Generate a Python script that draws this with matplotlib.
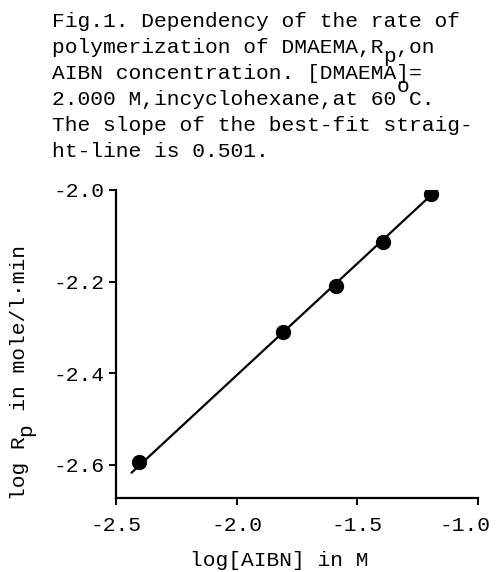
import matplotlib
matplotlib.use("Agg")
import matplotlib.pyplot as plt
from matplotlib.transforms import offset_copy, ScaledTranslation

plt.rcParams['font.family'] = ['Liberation Mono', 'DejaVu Sans Mono']

# Data
log_aibn = [-2.405, -1.808, -1.588, -1.393, -1.195]
log_rp = [-2.594, -2.310, -2.210, -2.114, -2.009]
fit_x = [-2.438, -1.157]
fit_y = [-2.618, -1.993]
xticks = [-2.5, -2.0, -1.5, -1.0]
xticklabels = ['-2.5', '-2.0', '-1.5', '-1.0']
yticks = [-2.6, -2.4, -2.2, -2.0]
yticklabels = ['-2.6', '-2.4', '-2.2', '-2.0']
caption = [
    "Fig.1. Dependency of the rate of",
    "polymerization of DMAEMA,R ,on",
    "AIBN concentration. [DMAEMA]=",
    "2.000 M,incyclohexane,at 60 C.",
    "The slope of the best-fit straig-",
    "ht-line is 0.501.",
]
xlabel = "log[AIBN] in M"
ylabel = "log R  in mole/l\u00b7min"

W, H = 497, 572
fig = plt.figure(figsize=(W / 100, H / 100), dpi=100)
ax = fig.add_axes([116 / W, (H - 498) / H, 362 / W, 308 / H])

ax.plot(fit_x, fit_y, color='black', lw=1.6, solid_capstyle='butt')
ax.plot(log_aibn, log_rp, 'o', color='black', ms=10)

ax.set_xlim(-2.5, -1.0)
ax.set_ylim(-2.672, -2.0)
ax.set_xticks(xticks)
ax.set_xticklabels(xticklabels)
ax.set_yticks(yticks)
ax.set_yticklabels(yticklabels)
for s in ['top', 'right']:
    ax.spines[s].set_visible(False)
for s in ['left', 'bottom']:
    ax.spines[s].set_linewidth(1.6)
fs = 15.3
ax.tick_params(axis='both', direction='out', length=5, width=1.4, labelsize=fs, pad=3)
ax.tick_params(axis='x', pad=8)

# shift last x tick label left (as in reference)
lbl = ax.get_xticklabels()[-1]
lbl.set_transform(lbl.get_transform() + ScaledTranslation(-0.13, 0, fig.dpi_scale_trans))

cw = 0.6 * fs  # points per monospace char

# axis labels
fig.text(279 / W, 1 - 560 / H, xlabel, ha='center', va='center', fontsize=fs)
fig.text(25 / W, 1 - 500 / H, ylabel, ha='left', va='baseline', rotation=90,
         rotation_mode='anchor', fontsize=fs)
t_ysub = offset_copy(fig.transFigure, fig=fig, x=4.3, y=5 * cw, units='points')
fig.text(25 / W, 1 - 500 / H, "p", transform=t_ysub, ha='left', va='baseline', rotation=90,
         rotation_mode='anchor', fontsize=fs)

# caption
x0 = 52 / W
base0 = 27
step = 26
for i, line in enumerate(caption):
    fig.text(x0, 1 - (base0 + i * step) / H, line, ha='left', va='baseline', fontsize=fs)

# subscript p after R (line 2, column 26) and superscript o (line 4, column 27)
t_sub = offset_copy(fig.transFigure, fig=fig, x=26 * cw, y=-6.5, units='points')
fig.text(x0, 1 - (base0 + 1 * step) / H, "p", transform=t_sub, ha='left', va='baseline', fontsize=fs)
t_sup = offset_copy(fig.transFigure, fig=fig, x=27 * cw, y=9.4, units='points')
fig.text(x0, 1 - (base0 + 3 * step) / H, "o", transform=t_sup, ha='left', va='baseline', fontsize=fs)

fig.savefig("out.png", dpi=100)
